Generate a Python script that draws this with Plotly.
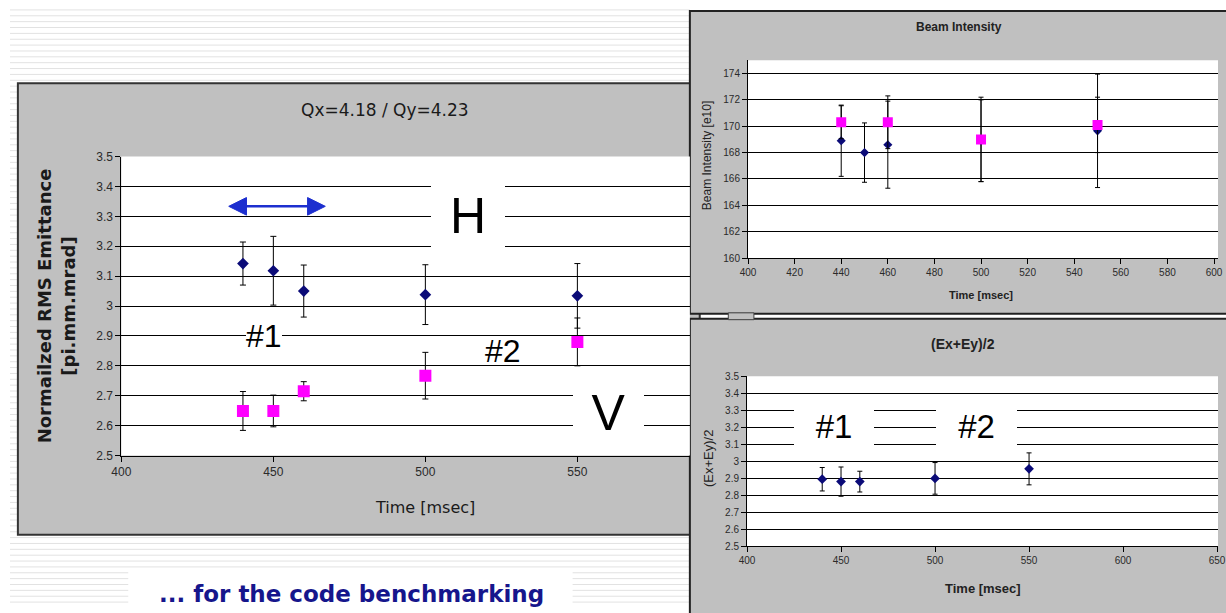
import plotly.graph_objects as go

W, H = 1226, 613

# ---------------- data ----------------
time_ms = [440, 450, 460, 500, 550]

# Normalized RMS emittance [pi.mm.mrad]
emit_h = [3.142, 3.118, 3.050, 3.038, 3.034]
emit_h_err = [0.072, 0.115, 0.087, 0.100, 0.108]
emit_v = [2.649, 2.649, 2.715, 2.767, 2.880]
emit_v_err = [0.065, 0.053, 0.032, 0.078, 0.080]

# Beam intensity [e10]
int_h = [168.9, 168.0, 168.6, 168.9, 169.65]
int_h_err = [2.7, 2.25, 3.3, 3.1, 4.3]
int_v = [170.3, None, 170.3, 169.0, 170.1]
int_v_err = [1.25, 0, 2.0, 3.2, 2.1]

# (Ex+Ey)/2
emit_avg = [2.895, 2.881, 2.881, 2.900, 2.956]
emit_avg_err = [0.069, 0.086, 0.061, 0.093, 0.094]

main_yticks = [2.5, 2.6, 2.7, 2.8, 2.9, 3.0, 3.1, 3.2, 3.3, 3.4, 3.5]

NAVY = "#0b0b78"
PINK = "#ff00ff"
PANEL = "#c0c0c0"
TICKFONT = "Liberation Sans"

# plot-area boxes in page pixels: (left, top, right, bottom)
MAIN_BOX = (113, 153, 690, 459)
INT_BOX = (749, 54.5, W, 257)
AVG_BOX = (748, 378, W, 552)


def px(x):
    return x / W


def py(y):
    return 1 - y / H


fig = go.Figure()

# ---------------- traces ----------------
fig.add_trace(go.Scatter(
    x=time_ms, y=emit_h, mode="markers", xaxis="x", yaxis="y",
    marker=dict(symbol="diamond", size=9, color=NAVY),
    error_y=dict(type="data", array=emit_h_err, color="black", thickness=1, width=3),
))
fig.add_trace(go.Scatter(
    x=time_ms, y=emit_v, mode="markers", xaxis="x", yaxis="y",
    marker=dict(symbol="square", size=12, color=PINK),
    error_y=dict(type="data", array=emit_v_err, color="black", thickness=1, width=3),
))
fig.add_trace(go.Scatter(
    x=time_ms, y=int_h, mode="markers", xaxis="x2", yaxis="y2",
    marker=dict(symbol="diamond", size=7, color=NAVY),
    error_y=dict(type="data", array=int_h_err, color="black", thickness=1, width=2.5),
))
fig.add_trace(go.Scatter(
    x=time_ms, y=int_v, mode="markers", xaxis="x2", yaxis="y2",
    marker=dict(symbol="square", size=10, color=PINK),
    error_y=dict(type="data", array=int_v_err, color="black", thickness=1, width=2.5),
))
fig.add_trace(go.Scatter(
    x=time_ms, y=emit_avg, mode="markers", xaxis="x3", yaxis="y3",
    marker=dict(symbol="diamond", size=7.5, color=NAVY),
    error_y=dict(type="data", array=emit_avg_err, color="black", thickness=1, width=2.5),
))

# ---------------- axes ----------------
common = dict(showline=True, linecolor="black", linewidth=1, ticks="outside",
              tickcolor="black", ticklen=5, zeroline=False, fixedrange=True)

fig.update_layout(
    width=W, height=H, margin=dict(l=0, r=0, t=0, b=0),
    paper_bgcolor="white", plot_bgcolor="white", showlegend=False,
    xaxis=dict(domain=[px(MAIN_BOX[0]), px(MAIN_BOX[2])], range=[400, 587],
               tickvals=[400, 450, 500, 550], showgrid=False, anchor="y",
               tickfont=dict(family=TICKFONT, size=12, color="#2a2a2a"), **common),
    yaxis=dict(domain=[py(MAIN_BOX[3]), py(MAIN_BOX[1])], range=[2.5, 3.5], tickvals=main_yticks,
               ticktext=[f"{v:g}" for v in main_yticks],
               showgrid=True, gridcolor="black", gridwidth=1, anchor="x",
               tickfont=dict(family=TICKFONT, size=12, color="#2a2a2a"), **common),
    xaxis2=dict(domain=[px(INT_BOX[0]), 1.0], range=[400, 601.7], dtick=20, tick0=400,
                showgrid=False, anchor="y2", ticklabeloverflow="allow",
                tickfont=dict(family=TICKFONT, size=10, color="#2a2a2a"), **common),
    yaxis2=dict(domain=[py(INT_BOX[3]), py(INT_BOX[1])], range=[160, 175], dtick=2, tick0=160,
                showgrid=True, gridcolor="black", gridwidth=1, anchor="x2",
                tickfont=dict(family=TICKFONT, size=10, color="#2a2a2a"), **common),
    xaxis3=dict(domain=[px(AVG_BOX[0]), 1.0], range=[400, 650.5], dtick=50, tick0=400,
                showgrid=False, anchor="y3", ticklabeloverflow="allow",
                tickfont=dict(family=TICKFONT, size=10, color="#2a2a2a"), **common),
    yaxis3=dict(domain=[py(AVG_BOX[3]), py(AVG_BOX[1])], range=[2.5, 3.5], tickvals=main_yticks,
                ticktext=[f"{v:g}" for v in main_yticks],
                showgrid=True, gridcolor="black", gridwidth=1, anchor="x3",
                tickfont=dict(family=TICKFONT, size=10, color="#2a2a2a"), **common),
)


def rect(x0, y0, x1, y1, fill, line_color=None, line_width=0, layer="below"):
    return dict(type="rect", xref="paper", yref="paper",
                x0=px(x0), x1=px(x1), y0=py(y1), y1=py(y0), fillcolor=fill,
                line=dict(color=line_color or fill, width=line_width), layer=layer)


# ---------------- slide background and panels ----------------
stripe_path = " ".join(f"M0,{py(y):.5f} L{px(690):.5f},{py(y):.5f}" for y in range(3, H, 6))
shapes = [
    dict(type="path", xref="paper", yref="paper", path=stripe_path,
         line=dict(color="#e2e2e2", width=1), layer="below"),
    rect(8, 78, 700, 540, PANEL, "#333333", 2),          # main chart panel
    rect(690, 4, 1240, 314, PANEL, "#222222", 2),        # beam intensity panel
    rect(690, 319, 1240, 625, PANEL, "#222222", 2),      # (Ex+Ey)/2 panel
    rect(729, 313, 755, 320, PANEL, "#444444", 1),       # small tab between the panels
    rect(*MAIN_BOX, "white"),
    rect(*INT_BOX, "white"),
    rect(*AVG_BOX, "white"),
    rect(120, 577, 571, 613, "white"),                   # caption backdrop
    # double-headed arrow over the first group of points
    dict(type="line", xref="paper", yref="paper", x0=px(236), x1=px(306), y0=py(204), y1=py(204),
         line=dict(color="#1d2fcf", width=2.5), layer="above"),
    dict(type="path", xref="paper", yref="paper",
         path=f"M{px(222)},{py(204)} L{px(240)},{py(195)} L{px(240)},{py(213)} Z",
         fillcolor="#1d2fcf", line=dict(color="#1d2fcf", width=1), layer="above"),
    dict(type="path", xref="paper", yref="paper",
         path=f"M{px(320)},{py(204)} L{px(302)},{py(195)} L{px(302)},{py(213)} Z",
         fillcolor="#1d2fcf", line=dict(color="#1d2fcf", width=1), layer="above"),
]
fig.update_layout(shapes=shapes)


# ---------------- text ----------------
def note(text, x, y, size, family="DejaVu Sans", color="#1a1a1a", angle=0, **kw):
    fig.add_annotation(text=text, x=px(x), y=py(y), xref="paper", yref="paper",
                       showarrow=False, textangle=angle, xanchor="center", yanchor="middle",
                       font=dict(family=family, size=size, color=color), **kw)


# main chart
note("Qx=4.18 / Qy=4.23", 381, 105, 17)
note("Time [msec]", 421, 512, 16)
note("<b>Normailzed RMS Emittance</b><br><b>[pi.mm.mrad]</b>", 47, 306, 18, angle=-90)
note("H", 465, 214, 50, family="Liberation Sans", color="black",
     bgcolor="white", width=74, height=72, borderpad=0, borderwidth=0)
note("V", 607.5, 415, 50, family="Liberation Sans", color="black",
     bgcolor="white", width=71, height=74, borderpad=0, borderwidth=0)
note("#1", 258, 337, 32, family="Liberation Sans", color="black",
     bgcolor="white", borderpad=0, borderwidth=0)
note("#2", 500, 352, 32, family="Liberation Sans", color="black")

# beam intensity chart
note("<b>Beam Intensity</b>", 963, 20, 12, family=TICKFONT, color="#222")
note("<b>Time [msec]</b>", 985, 295, 11, family=TICKFONT, color="#222")
note("Beam Intensity [e10]", 707, 152, 12, family=TICKFONT, color="#222", angle=-90)

# (Ex+Ey)/2 chart
note("<b>(Ex+Ey)/2</b>", 967, 345, 14, family=TICKFONT, color="#222")
note("<b>Time [msec]</b>", 988, 595, 13, family=TICKFONT, color="#222")
note("(Ex+Ey)/2", 709, 462, 13, family=TICKFONT, color="#222", angle=-90)
note("#1", 836, 429, 33, family="Liberation Sans", color="black",
     bgcolor="white", width=80, height=54, borderpad=0, borderwidth=0)
note("#2", 980.5, 429, 33, family="Liberation Sans", color="black",
     bgcolor="white", width=81, height=54, borderpad=0, borderwidth=0)

# slide caption
note("<b>... for the code benchmarking</b>", 347, 601, 23, color="#16168c")

fig.write_html("out.html", config={"displayModeBar": False})
